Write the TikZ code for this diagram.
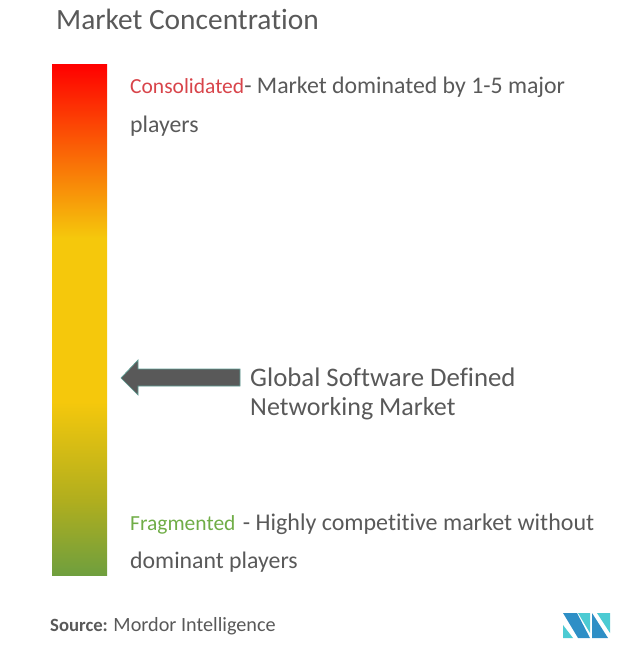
\documentclass[tikz,border=0pt]{standalone}
\usepackage{fontspec}
\setmainfont[Ligatures=NoCommon]{Carlito}
\newcommand{\fsz}[1]{\fontsize{#1}{#1}\selectfont}
\definecolor{txt}{HTML}{595959}
\definecolor{consol}{HTML}{D8444A}
\definecolor{frag}{HTML}{70AD47}
\definecolor{srcc}{HTML}{595959}
\definecolor{arrowedge}{HTML}{5F9F95}
\definecolor{logoa}{HTML}{2E8FC6}
\definecolor{logob}{HTML}{4CCBD3}
\definecolor{mkA}{HTML}{6F9F3E}
\definecolor{mkB}{HTML}{B0AE1E}
\definecolor{mkC}{HTML}{F5C80C}
\definecolor{mkD}{HTML}{FF0000}
\pgfdeclareverticalshading{mktbar}{100bp}{
 color(0bp)=(mkA);
 color(25bp)=(mkA);
 color(32.3bp)=(mkB);
 color(42bp)=(mkC);
 color(58bp)=(mkC);
 color(75bp)=(mkD);
 color(100bp)=(mkD)}
\tikzset{
 lbl/.style={anchor=base west,inner sep=0pt,text=txt,font=\fsz{23.8}},
 ttl/.style={anchor=base west,inner sep=0pt,text=txt,font=\fsz{29.4}}
}
\begin{document}
\begin{tikzpicture}[x=1pt,y=-1pt]
\useasboundingbox (0,0) rectangle (640,660);
\node[ttl] (title) at (56,29.5) {Market Concentration};
\path[shading=mktbar] (52,64.5) rectangle (107,575);
\node[lbl] (c1) at (130,94) {{\fsz{21.5}\textcolor{consol}{Consolidated}}- Market dominated by 1-5 major};
\node[lbl] (c2) at (130,132.5) {players};
\node[lbl,font=\fsz{26.8}] (m1) at (250,386) {Global Software Defined};
\node[lbl,font=\fsz{26}] (m2) at (250,415) {Networking Market};
\node[lbl,font=\fsz{24}] (f1) at (130,530) {{\fsz{21.5}\textcolor{frag}{Fragmented}}\hspace{2pt} - Highly competitive market without};
\node[lbl] (f2) at (130,568) {dominant players};
\node[anchor=base west,inner sep=0pt,text=srcc,font=\fsz{20.2}] (src) at (50,631) {{\fsz{18.7}\textbf{Source:}}\hspace{-0.5pt} Mordor Intelligence};
\draw[fill=txt,draw=arrowedge,line width=0.7pt] (240,369) -- (138,369) -- (138,360) -- (121,378) -- (138,395) -- (138,386) -- (240,386) -- cycle;
\fill[logob] (563,625) -- (563,638) -- (573,638) -- cycle;
\fill[logoa] (563,613) -- (577,613) -- (590,638) -- (578,638) -- cycle;
\fill[logob] (578,613) -- (590,613) -- (590,633) -- cycle;
\fill[logoa] (592,613) -- (608,638) -- (592,638) -- cycle;
\fill[logob] (597,613) -- (610,613) -- (610,633) -- cycle;
\end{tikzpicture}
\end{document}
